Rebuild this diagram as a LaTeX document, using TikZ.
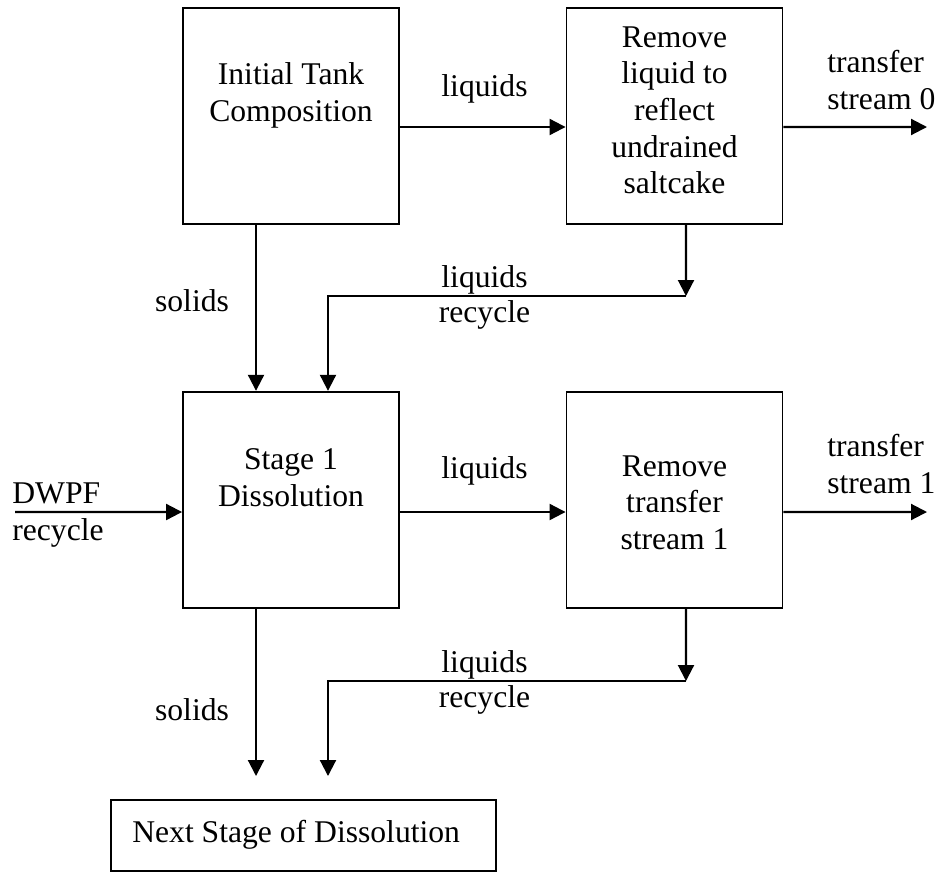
\documentclass[tikz,border=0pt]{standalone}
\usepackage{fontspec}
\setmainfont{Liberation Serif}
\usetikzlibrary{arrows.meta, positioning, calc}

\begin{document}
\begin{tikzpicture}[
                x=0.02cm, y=-0.02cm,
                font=\fontsize{18}{20.9}\selectfont,
                box/.style={draw, line width=1.1pt, minimum width=4.32cm, minimum height=4.33cm, inner sep=0pt},
                txt/.style={align=center, inner sep=0pt},
                lbl/.style={inner sep=0pt},
                arrow/.style={-{Triangle[length=0.32cm, width=0.32cm]}, line width=1.2pt}
            ]
                \useasboundingbox (0,0) rectangle (935,872);

                \node[box] (init) at (291,116) {};
                \node[box] (rem0) at (674.5,116) {};
                \node[box] (stage) at (291,500) {};
                \node[box] (rem1) at (674.5,500) {};
                \node[draw, line width=1.1pt, minimum width=7.7cm, minimum height=1.42cm] (next) at (303.5,835.5) {};

                \node[txt, anchor=north] (initT) at (291,62) {Initial Tank\\Composition};
                \node[txt, anchor=north] (rem0T) at (674.5,26) {Remove\\liquid to\\reflect\\undrained\\saltcake};
                \node[txt, anchor=north] (stageT) at (291,448) {Stage 1\\Dissolution};
                \node[txt, anchor=north] (rem1T) at (674.5,455) {Remove\\transfer\\stream 1};
                \node[lbl, anchor=base west] (nextT) at (132,842) {Next Stage of Dissolution};

                \coordinate (out0) at (927,127);
                \coordinate (out1) at (927,512);
                \coordinate (dwpf) at (15,512);
                \coordinate (rc0) at (686,296);
                \coordinate (rc1) at (686,681);
                \coordinate (nexttop) at (303.5,776);

                \draw[arrow] ([yshift=-0.22cm]init.east) -- ([yshift=-0.22cm]rem0.west);
                \draw[arrow] ([yshift=-0.22cm]rem0.east) -- (out0);
                \draw[arrow] ([xshift=-0.7cm]init.south) -- ([xshift=-0.7cm]stage.north);
                \draw[arrow] ([xshift=0.23cm]rem0.south) -- (rc0);
                \draw[arrow] (rc0) -| ([xshift=0.74cm]stage.north);

                \draw[arrow] (dwpf) -- ([yshift=-0.24cm]stage.west);
                \draw[arrow] ([yshift=-0.24cm]stage.east) -- ([yshift=-0.24cm]rem1.west);
                \draw[arrow] ([yshift=-0.24cm]rem1.east) -- (out1);
                \draw[arrow] ([xshift=-0.7cm]stage.south) -- ([xshift=-0.7cm]stage.south |- nexttop);
                \draw[arrow] ([xshift=0.23cm]rem1.south) -- (rc1);
                \draw[arrow] (rc1) -| ([xshift=0.74cm]stage.south |- nexttop);

                % stream labels
                \node[lbl, anchor=base] (liq0) at (484.5,96) {liquids};
                \node[lbl, anchor=base] (liq1) at (484.5,478) {liquids};
                \node[lbl, anchor=base] (rliq0) at (484.5,287) {liquids};
                \node[lbl, anchor=base] (rrec0) at (484.5,322) {recycle};
                \node[lbl, anchor=base] (rliq1) at (484.5,672) {liquids};
                \node[lbl, anchor=base] (rrec1) at (484.5,707) {recycle};
                \node[lbl, anchor=base] (sol0) at (192,311) {solids};
                \node[lbl, anchor=base] (sol1) at (192,720) {solids};
                \node[lbl, anchor=base west] (dwpfT) at (12,503) {DWPF};
                \node[lbl, anchor=base west] (dwpfB) at (12,540) {recycle};
                \node[lbl, align=left, anchor=north west] (tr0) at (827,50) {transfer\\stream 0};
                \node[lbl, align=left, anchor=north west] (tr1) at (827,434) {transfer\\stream 1};
            \end{tikzpicture}
\end{document}
